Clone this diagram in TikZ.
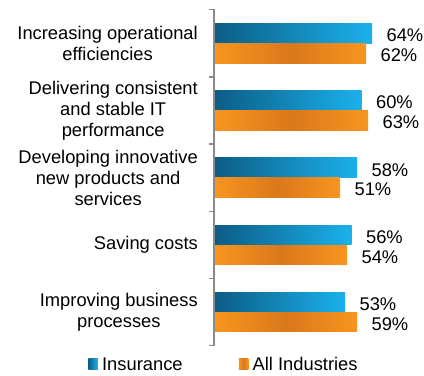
\documentclass[tikz,border=0pt]{standalone}
\usepackage{fontspec}
\setmainfont{Liberation Sans}
\usepackage{tikz}
\usetikzlibrary{positioning}
\definecolor{insdark}{HTML}{0B5D86}
\definecolor{inslight}{HTML}{1BB1EC}
\definecolor{allside}{HTML}{F8951F}
\definecolor{allmid}{HTML}{DA781C}
\definecolor{axisgray}{HTML}{8A8A8A}
\tikzset{
	insbar/.style={rectangle, inner sep=0pt, minimum height=19.6bp, left color=insdark, right color=inslight},
	allbar/.style={rectangle, inner sep=0pt, minimum height=19.6bp, left color=allside, right color=allside, middle color=allmid},
	pct/.style={inner sep=0pt},
	cat/.style={inner sep=0pt, align=center},
	axisline/.style={draw=axisgray, line width=1.5bp}
}

\begin{document}
\begin{tikzpicture}[x=1bp, y=1bp, font=\fontsize{18.4}{21.1}\selectfont]
			\useasboundingbox (0,0) rectangle (424,376);
			% axis
			\coordinate (top) at (214,366.3);
			\coordinate (bot) at (214,30.3);
			\draw[axisline] (209,366.3) -- (top) -- (bot) -- (209,30.3);
			\draw[axisline] (209,299.1) -- (214,299.1);
			\draw[axisline] (209,231.9) -- (214,231.9);
			\draw[axisline] (209,164.7) -- (214,164.7);
			\draw[axisline] (209,97.5) -- (214,97.5);
			% group centres
			\coordinate (c1) at (215,332.7);
			\coordinate (c2) at (215,265.5);
			\coordinate (c3) at (215,198.3);
			\coordinate (c4) at (215,131.1);
			\coordinate (c5) at (215,63.9);
			% categories
			\node[cat, left = 17bp of c1] (cat1) {Increasing operational\\efficiencies};
			\node[cat, left = 17bp of c2] (cat2) {Delivering consistent\\and stable IT\\performance};
			\node[cat, left = 17bp of c3] (cat3) {Developing innovative\\new products and\\services};
			\node[cat, left = 17bp of c4] (cat4) {Saving costs};
			\node[cat, left = 17bp of c5] (cat5) {Improving business\\processes};
			% bars
			\node[insbar, minimum width=157bp, above right = 0bp of c1] (ins1) {};
			\node[allbar, minimum width=151bp, below right = 0bp of c1] (all1) {};
			\node[insbar, minimum width=146.5bp, above right = 0bp of c2] (ins2) {};
			\node[allbar, minimum width=153bp, below right = 0bp of c2] (all2) {};
			\node[insbar, minimum width=142bp, above right = 0bp of c3] (ins3) {};
			\node[allbar, minimum width=125bp, below right = 0bp of c3] (all3) {};
			\node[insbar, minimum width=136.5bp, above right = 0bp of c4] (ins4) {};
			\node[allbar, minimum width=132bp, below right = 0bp of c4] (all4) {};
			\node[insbar, minimum width=130bp, above right = 0bp of c5] (ins5) {};
			\node[allbar, minimum width=142bp, below right = 0bp of c5] (all5) {};
			% values
			\node[pct, right = 14bp of ins1, yshift=-2bp] (v1a) {64\%};
			\node[pct, right = 14bp of all1, yshift=-2bp] (v1b) {62\%};
			\node[pct, right = 14bp of ins2, yshift=-2bp] (v2a) {60\%};
			\node[pct, right = 14bp of all2, yshift=-2bp] (v2b) {63\%};
			\node[pct, right = 14bp of ins3, yshift=-2bp] (v3a) {58\%};
			\node[pct, right = 14bp of all3, yshift=-2bp] (v3b) {51\%};
			\node[pct, right = 14bp of ins4, yshift=-2bp] (v4a) {56\%};
			\node[pct, right = 14bp of all4, yshift=-2bp] (v4b) {54\%};
			\node[pct, right = 14bp of ins5, yshift=-2bp] (v5a) {53\%};
			\node[pct, right = 14bp of all5, yshift=-2bp] (v5b) {59\%};
			% legend
			\node[insbar, minimum width=9.5bp, minimum height=10bp] (keyins) at (93,12) {};
			\node[pct, right = 4bp of keyins] (txtins) {Insurance};
			\node[allbar, minimum width=9.5bp, minimum height=10bp] (keyall) at (243.5,12) {};
			\node[pct, right = 4bp of keyall] (txtall) {All Industries};
		\end{tikzpicture}
\end{document}
